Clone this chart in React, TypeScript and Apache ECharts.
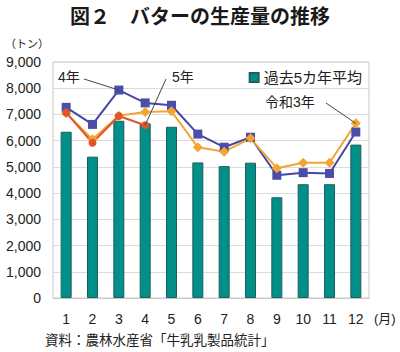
import React, { useEffect, useRef } from "react";
import * as echarts from "echarts";

const months = ["1", "2", "3", "4", "5", "6", "7", "8", "9", "10", "11", "12"];
const avg5 = [6340, 5390, 6760, 6660, 6530, 5170, 5030, 5160, 3840, 4340, 4340, 5850];
const r4 = [7270, 6620, 7930, 7440, 7350, 6250, 5750, 6130, 4680, 4780, 4750, 6330];
const r3 = [7050, 6050, 6950, 7090, 7120, 5750, 5580, 6090, 4950, 5160, 5160, 6660];
const r5 = [7070, 5920, 6940, 6590];
const yTicks = [0, 9000, 1000];

const JP = "'Liberation Sans', 'Noto Sans CJK JP', sans-serif";

export default function App() {
  const ref = useRef<HTMLDivElement>(null);
  useEffect(() => {
    const chart = echarts.init(ref.current!, null, { renderer: "svg" });
    chart.setOption({
      animation: false,
      backgroundColor: "#fff",
      textStyle: { fontFamily: JP },
      grid: { left: 53, right: 31, top: 62, bottom: 54, show: true, borderColor: "#c8c8c8", borderWidth: 1 },
      legend: {
        data: ["過去5カ年平均"],
        right: 33,
        top: 65,
        itemWidth: 9,
        itemHeight: 9,
        itemGap: 4,
        textStyle: { fontSize: 15, color: "#222", fontFamily: JP },
        icon: "rect",
      },
      xAxis: {
        type: "category",
        data: months,
        axisLine: { lineStyle: { color: "#c8c8c8" } },
        axisTick: { show: false },
        axisLabel: { fontSize: 14, color: "#222", margin: 14 },
      },
      yAxis: {
        type: "value",
        min: yTicks[0],
        max: yTicks[1],
        interval: yTicks[2],
        axisLine: { show: false },
        axisTick: { show: false },
        splitLine: { lineStyle: { color: "#dcdcdc" } },
        axisLabel: {
          fontSize: 14,
          color: "#222",
          margin: 12,
          formatter: (v: number) => v.toLocaleString("en-US"),
        },
      },
      series: [
        {
          name: "過去5カ年平均",
          type: "bar",
          data: avg5,
          barWidth: 11,
          itemStyle: { color: "#009089", borderColor: "#1f5f5b", borderWidth: 1 },
        },
        {
          name: "令和4年",
          type: "line",
          data: r4,
          symbol: "rect",
          symbolSize: 9,
          lineStyle: { color: "#4448a0", width: 2 },
          itemStyle: { color: "#4a4ea8" },
        },
        {
          name: "令和3年",
          type: "line",
          data: r3,
          symbol: "diamond",
          symbolSize: 10,
          lineStyle: { color: "#f2a532", width: 2 },
          itemStyle: { color: "#f2a532" },
        },
        {
          name: "令和5年",
          type: "line",
          data: r5,
          symbol: "circle",
          symbolSize: 8,
          lineStyle: { color: "#e0552a", width: 2 },
          itemStyle: { color: "#e0552a" },
        },
      ],
    });

    const p4 = chart.convertToPixel({ seriesIndex: 1 }, [2, r4[2]]) as number[];
    const p5 = chart.convertToPixel({ seriesIndex: 3 }, [3, r5[3]]) as number[];
    const p3 = chart.convertToPixel({ seriesIndex: 2 }, [11, r3[11]]) as number[];

    const txt = (x: number, y: number, s: string, size: number, extra: any = {}) => ({
      type: "text",
      x,
      y,
      style: { text: s, fontSize: size, fill: "#222", fontFamily: JP, textVerticalAlign: "middle", ...extra },
      z: 10,
    });
    const line = (x1: number, y1: number, x2: number, y2: number) => ({
      type: "line",
      shape: { x1, y1, x2, y2 },
      style: { stroke: "#444", lineWidth: 1 },
      z: 10,
    });

    chart.setOption({
      graphic: [
        txt(200, 17, "図２　バターの生産量の推移", 20, { textAlign: "center", fontWeight: "bold", fill: "#1a1a1a" }),
        txt(5, 44, "（トン）", 11),
        txt(374, 318, "(月)", 13),
        txt(45, 340, "資料：農林水産省「牛乳乳製品統計」", 13.5),
        txt(58, 77, "4年", 14),
        line(84, 79, p4[0], p4[1]),
        txt(172, 77, "5年", 14),
        line(166, 79, p5[0], p5[1]),
        txt(265, 102, "令和3年", 14),
        line(326, 103, p3[0], p3[1]),
      ],
    });
    return () => chart.dispose();
  }, []);
  return <div ref={ref} style={{ width: 400, height: 352, position: "absolute", left: 0, top: 0 }} />;
}
